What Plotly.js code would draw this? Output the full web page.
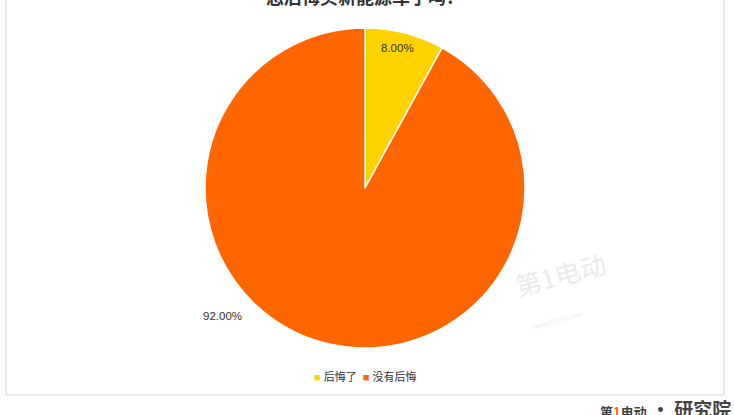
<!DOCTYPE html>
<html>
<head>
<meta charset="utf-8">
<script src="https://cdn.plot.ly/plotly-3.0.1.min.js"></script>
<style>
html,body{margin:0;padding:0;background:#fff;}
#chart{width:734px;height:415px;}
</style>
</head>
<body>
<div id="chart"></div>
<script>
// ---- data ----
const titleText = '您后悔买新能源车了吗?';
const labels = ['后悔了', '没有后悔'];
const values = [8, 92];
const colors = ['#FFD200', '#FF6600'];
const watermark = '第1电动';
const brandA = '第', brandB = '1', brandC = '动', brandD = '研究院';

const W = 734, H = 415;
const px = x => x / W;
const py = y => 1 - y / H;

const total = values.reduce((a, b) => a + b, 0);
const pctText = values.map(v => (v / total * 100).toFixed(2) + '%');

// pie geometry: centre (365,188), radius 160
const cx = 365, cy = 188, r = 160;

const trace = {
  type: 'pie',
  labels: labels,
  values: values,
  sort: false,
  direction: 'clockwise',
  rotation: 0,
  textinfo: 'none',
  hoverinfo: 'label+percent',
  marker: {colors: colors, line: {color: '#ffffff', width: 1.5}},
  domain: {x: [px(cx - r), px(cx + r)], y: [py(cy + r), py(cy - r)]},
  showlegend: false
};

const baseFont = 'Liberation Sans, Arial, Noto Sans CJK SC, sans-serif';

// label positions (layout only)
const labelPos = [[397, 48], [222, 316]];
const annotations = [];
pctText.forEach((t, i) => {
  annotations.push({
    xref: 'paper', yref: 'paper', x: px(labelPos[i][0]), y: py(labelPos[i][1]),
    text: t, showarrow: false, xanchor: 'center', yanchor: 'middle',
    font: {family: baseFont, size: 11.5, color: '#333333'}
  });
});

// title (cut off at the top edge, as in the reference)
annotations.push({
  xref: 'paper', yref: 'paper', x: px(360), y: py(-4),
  text: '<b>' + titleText + '</b>', showarrow: false, xanchor: 'center', yanchor: 'middle',
  font: {family: 'Noto Sans CJK SC, sans-serif', size: 18, color: '#333333'}
});

// custom legend
const legendText = labels.map((l, i) =>
  '<span style="color:' + colors[i] + '">■</span> ' + l).join('  ');
annotations.push({
  xref: 'paper', yref: 'paper', x: px(365), y: py(376),
  text: legendText, showarrow: false, xanchor: 'center', yanchor: 'middle',
  font: {family: baseFont, size: 11, color: '#333333'}
});

// watermark
annotations.push({
  xref: 'paper', yref: 'paper', x: px(612), y: py(306),
  text: watermark, showarrow: false, textangle: -15, opacity: 0.16,
  font: {family: 'Noto Sans CJK SC, sans-serif', size: 26, color: '#888888'}
});
annotations.push({
  xref: 'paper', yref: 'paper', x: px(585), y: py(333),
  text: 'www.D1EV.com', showarrow: false, textangle: -15, opacity: 0.18,
  font: {family: baseFont, size: 7, color: '#888888'}
});

// brand logo text at bottom right (cut off at the edge, as in the reference)
annotations.push({
  xref: 'paper', yref: 'paper', x: px(598), y: py(408),
  text: '<b><span style="font-size:13px">' + brandA + '<span style="color:#FF6600">' + brandB +
        '</span>电' + brandC + '</span> · ' + brandD + '</b>',
  showarrow: false, xanchor: 'left', yanchor: 'middle',
  font: {family: 'Noto Sans CJK SC, sans-serif', size: 19, color: '#444444'}
});

const layout = {
  width: W, height: H,
  margin: {l: 0, r: 0, t: 0, b: 0},
  paper_bgcolor: '#ffffff',
  showlegend: false,
  annotations: annotations,
  shapes: [{
    type: 'rect', xref: 'paper', yref: 'paper',
    x0: px(6), x1: px(724), y0: py(395), y1: py(-20),
    line: {color: '#d4d4d4', width: 1}
  }]
};

Plotly.newPlot('chart', [trace], layout, {displayModeBar: false, staticPlot: true});
</script>
</body>
</html>
